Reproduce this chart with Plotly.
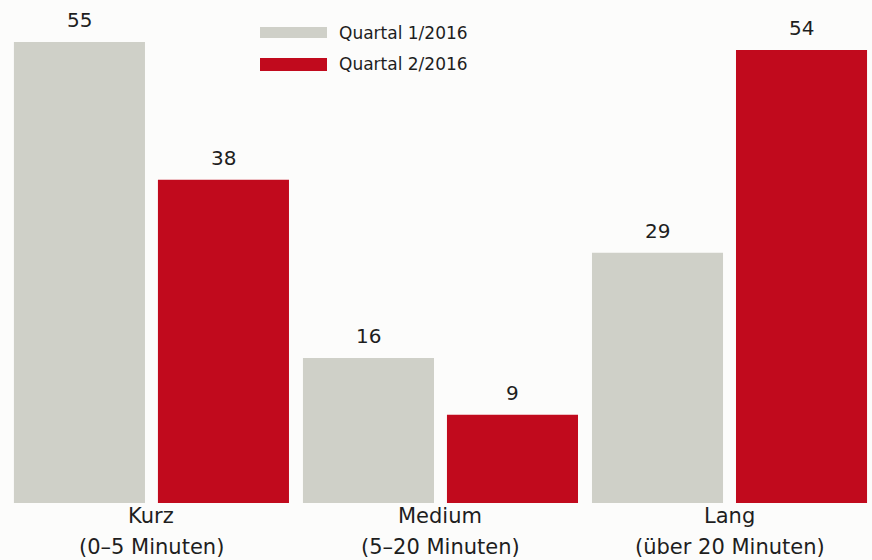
import plotly.graph_objects as go

categories = ["Kurz", "Medium", "Lang"]
subtitles = ["(0–5 Minuten)", "(5–20 Minuten)", "(über 20 Minuten)"]
series_names = ["Quartal 1/2016", "Quartal 2/2016"]
q1_values = [55, 16, 29]
q2_values = [38, 9, 54]

colors = ["#cfd0c8", "#c10a1d"]
FONT = "DejaVu Sans"
TEXT = "#1e1e1e"
BASE = -1.87  # bars start slightly below zero in the original

W, H = 872, 560
fig = go.Figure()
for name, vals, col in zip(series_names, [q1_values, q2_values], colors):
    fig.add_trace(go.Bar(
        x=categories, y=[v - BASE for v in vals], base=BASE,
        name=name, marker=dict(color=col, line=dict(width=0)),
        showlegend=False, hoverinfo="skip",
    ))

annotations = []
# value labels
for vals, shift in [(q1_values, -72), (q2_values, 72)]:
    for c, v in zip(categories, vals):
        annotations.append(dict(
            x=c, y=v, xref="x", yref="y", text=str(v), showarrow=False,
            xshift=shift, yshift=22, yanchor="middle",
            font=dict(family=FONT, size=20, color=TEXT)))
# category labels
for c, s in zip(categories, subtitles):
    annotations.append(dict(x=c, y=1 - 516 / H, xref="x", yref="paper", text=c,
                            showarrow=False, yanchor="middle",
                            font=dict(family=FONT, size=21, color=TEXT)))
    annotations.append(dict(x=c, y=1 - 547 / H, xref="x", yref="paper", text=s,
                            showarrow=False, yanchor="middle",
                            font=dict(family=FONT, size=21, color=TEXT)))

# custom legend
shapes = []
leg_rows = [(27, 38, 33), (58, 71, 64)]
for (y0, y1, yc), name, col in zip(leg_rows, series_names, colors):
    shapes.append(dict(type="rect", xref="paper", yref="paper",
                       x0=260 / W, x1=327 / W, y0=1 - y1 / H, y1=1 - y0 / H,
                       fillcolor=col, line=dict(width=0)))
    annotations.append(dict(x=337 / W, y=1 - yc / H, xref="paper", yref="paper",
                            text=name, showarrow=False, xanchor="left", yanchor="middle",
                            font=dict(family=FONT, size=17, color=TEXT)))

fig.update_layout(
    width=W, height=H,
    margin=dict(l=0, r=0, t=0, b=0),
    paper_bgcolor="#fcfcfb", plot_bgcolor="#fcfcfb",
    barmode="group", bargap=0.0035, bargroupgap=0.09,
    xaxis=dict(range=[-0.524, 2.493], showticklabels=False, showgrid=False,
               zeroline=False, showline=False, ticks=""),
    yaxis=dict(range=[-8.906, 60.17], showticklabels=False, showgrid=False,
               zeroline=False, showline=False, ticks=""),
    annotations=annotations, shapes=shapes,
    showlegend=False,
)

fig.write_html("out.html")
